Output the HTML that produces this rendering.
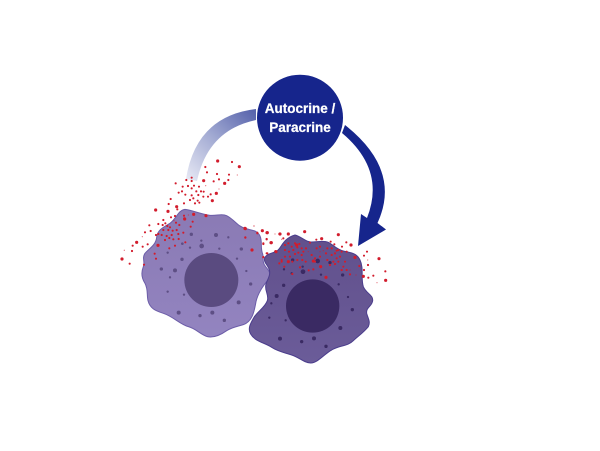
<!DOCTYPE html>
<html><head><meta charset="utf-8"><style>
html,body{margin:0;padding:0;background:#fff;width:600px;height:451px;overflow:hidden}
svg{display:block}
.d{fill:none;stroke:#d21c2c;stroke-linecap:round}
</style></head><body>
<svg width="600" height="451" viewBox="0 0 600 451" xmlns="http://www.w3.org/2000/svg">
<defs>
<linearGradient id="a" gradientUnits="userSpaceOnUse" x1="256" y1="113" x2="190" y2="182"><stop offset="0" stop-color="#5864ac"/><stop offset=".5" stop-color="#a3abd3"/><stop offset="1" stop-color="#e6e8f4"/></linearGradient>
<linearGradient id="l" x1="0" y1="0" x2="0" y2="1"><stop offset="0" stop-color="#8a7ab4"/><stop offset="1" stop-color="#9384c0"/></linearGradient>
<linearGradient id="r" x1="0" y1="0" x2="0" y2="1"><stop offset="0" stop-color="#61508c"/><stop offset="1" stop-color="#6b5c99"/></linearGradient>
</defs>
<path d="M256,109 Q196,116 186,179 L197,181 Q208,130 256,120 Z" fill="url(#a)"/>
<path d="M345,125 Q402,170 377.5,223 L386,229.5 L358,246 L361,214 L367,218 Q386,170 342,133 Z" fill="#16258c"/>
<circle cx="300" cy="117.7" r="43" fill="#16258c"/>
<text x="300" y="113" text-anchor="middle" fill="#fff" stroke="#fff" stroke-width=".25" font-family="'Liberation Sans',sans-serif" font-weight="700" font-size="13.5">Autocrine /</text>
<text x="300" y="132" text-anchor="middle" fill="#fff" stroke="#fff" stroke-width=".25" font-family="'Liberation Sans',sans-serif" font-weight="700" font-size="13.5">Paracrine</text>

<g transform="translate(120 150) scale(.33333)">
<path d="M195,178 C215,180 240,192 270,196 C290,198 305,190 320,197 C345,210 350,228 378,236 C395,241 412,240 420,258 C428,275 420,292 428,312 C432,325 425,335 437,350 C447,362 455,372 445,388 C432,405 415,425 408,455 C402,490 395,515 370,524 C350,530 340,530 320,542 C300,556 280,564 262,560 C240,553 228,536 205,530 C180,523 160,500 130,490 C105,482 90,475 84,452 C80,435 85,420 75,400 C65,385 62,370 70,350 C76,335 65,325 75,310 C88,295 108,285 110,262 C112,240 130,232 150,220 C170,205 175,180 195,178 Z" fill="url(#l)" stroke="#6c5da8" stroke-width="3"/>
<circle cx="274" cy="390" r="81" fill="#5a4b80"/>
<g fill="#5e4f85">
<circle cx="288" cy="255" r="6"/><circle cx="245" cy="288" r="7"/><circle cx="244" cy="272" r="3.5"/><circle cx="325" cy="262" r="3.5"/><circle cx="214" cy="253" r="5"/><circle cx="298" cy="296" r="3.5"/><circle cx="364" cy="297" r="5"/><circle cx="351" cy="326" r="3.5"/><circle cx="186" cy="328" r="5"/><circle cx="210" cy="293" r="3.5"/><circle cx="187" cy="281" r="4"/><circle cx="143" cy="308" r="3.5"/><circle cx="124" cy="357" r="5"/><circle cx="165" cy="361" r="6"/><circle cx="150" cy="382" r="3.5"/><circle cx="143" cy="425" r="3.5"/><circle cx="192" cy="434" r="3.5"/><circle cx="379" cy="363" r="3.5"/><circle cx="392" cy="402" r="5"/><circle cx="356" cy="457" r="6"/><circle cx="277" cy="488" r="6"/><circle cx="240" cy="497" r="5"/><circle cx="176" cy="488" r="6"/><circle cx="313" cy="511" r="5"/>
</g>
<path class="d" stroke-width="9.5" d="M293,33h0M358,50h0M251,92h0M314,100h0M289,130h0M277,152h0M107,180h0M144,184h0M170,170h0M221,193h0M258,197h0M194,207h0M114,286h0M50,277h0M6,327h0M376,236h0M441,248h0M467,305h0M427,242h0M453,278h0"/>
<path class="d" stroke-width="6.5" d="M256,51h0M336,36h0M261,67h0M327,74h0M291,72h0M215,83h0M215,93h0M325,90h0M297,88h0M281,94h0M167,100h0M199,90h0M188,110h0M204,108h0M222,107h0M237,110h0M176,128h0M186,124h0M215,115h0M229,124h0M243,124h0M251,125h0M196,134h0M215,136h0M235,135h0M250,140h0M264,140h0M272,133h0M220,145h0M233,152h0M210,150h0M192,160h0M225,160h0M238,158h0M152,147h0M146,162h0M172,178h0M192,197h0M165,198h0M153,202h0M130,210h0M136,220h0M128,225h0M88,226h0M92,243h0M75,247h0M115,222h0M142,228h0M150,232h0M168,218h0M178,225h0M212,230h0M218,215h0M130,240h0M145,240h0M158,242h0M170,240h0M190,248h0M115,252h0M125,255h0M140,258h0M155,255h0M175,252h0M148,264h0M160,268h0M176,267h0M196,277h0M165,287h0M148,295h0M104,311h0M108,326h0M72,344h0M38,287h0M36,303h0M83,283h0M68,290h0M29,341h0M376,263h0M412,250h0M440,267h0M396,300h0M430,322h0M440,310h0M478,341h0M478,252h0M430,282h0M108,255h0M135,270h0M193,205h0"/>
<path class="d" stroke-width="4" stroke-opacity=".55" d="M352,75h0M297,117h0M257,107h0M67,260h0M13,301h0M402,228h0M162,212h0M205,195h0"/>
</g>

<g transform="translate(240 210) scale(.33333)">
<path d="M165,75 C185,80 195,95 212,96 C230,97 250,90 265,97 C280,105 290,118 310,123 C330,128 350,128 360,150 C372,175 362,205 370,230 C378,250 400,255 398,272 C396,290 378,290 380,310 C384,325 392,335 385,350 C370,368 355,378 340,392 C322,410 300,405 275,420 C255,430 235,458 212,459 C190,458 178,442 155,435 C135,428 115,425 95,412 C75,398 45,395 32,372 C22,355 32,340 42,322 C52,305 75,292 82,272 C88,255 72,240 78,222 C84,205 92,195 88,180 C84,165 68,155 75,142 C82,130 100,130 112,122 C125,112 130,85 165,75 Z" fill="url(#r)" stroke="#4b3d8c" stroke-width="3"/>
<circle cx="218" cy="288" r="80" fill="#3a2a63"/>
<g fill="#3a2a63">
<circle cx="233" cy="153" r="7"/><circle cx="189" cy="185" r="7"/><circle cx="158" cy="150" r="5"/><circle cx="270" cy="158" r="5"/><circle cx="132" cy="178" r="3.5"/><circle cx="188" cy="170" r="3.5"/><circle cx="155" cy="190" r="3.5"/><circle cx="243" cy="194" r="3.5"/><circle cx="308" cy="195" r="5"/><circle cx="296" cy="223" r="3.5"/><circle cx="131" cy="226" r="5"/><circle cx="110" cy="258" r="6"/><circle cx="94" cy="280" r="3.5"/><circle cx="324" cy="261" r="3.5"/><circle cx="337" cy="299" r="5"/><circle cx="88" cy="323" r="3.5"/><circle cx="137" cy="331" r="3.5"/><circle cx="301" cy="354" r="6"/><circle cx="222" cy="385" r="6"/><circle cx="185" cy="395" r="5"/><circle cx="120" cy="386" r="6"/><circle cx="258" cy="409" r="5"/>
</g>
<path class="d" stroke-width="9.5" d="M15,55h0M82,68h0M120,72h0M145,72h0M194,65h0M94,98h0M108,125h0M245,86h0M295,74h0M333,105h0M345,142h0M242,170h0M258,202h0M370,199h0M437,211h0M417,146h0M36,120h0M170,105h0M145,155h0M220,153h0"/>
<path class="d" stroke-width="6.5" d="M68,63h0M52,68h0M16,82h0M80,88h0M70,100h0M130,85h0M229,89h0M272,95h0M283,103h0M306,110h0M319,97h0M381,125h0M372,137h0M384,165h0M372,180h0M385,203h0M400,197h0M436,184h0M70,141h0M82,130h0M118,160h0M125,155h0M133,170h0M157,192h0M180,172h0M206,181h0M220,178h0M135,105h0M145,100h0M155,110h0M165,100h0M178,102h0M185,115h0M135,120h0M147,125h0M160,120h0M172,112h0M175,128h0M190,125h0M135,140h0M150,140h0M165,132h0M185,135h0M125,150h0M157,155h0M172,150h0M187,150h0M197,155h0M210,98h0M230,115h0M240,110h0M198,115h0M215,135h0M225,145h0M240,140h0M258,130h0M262,115h0M275,115h0M290,122h0M262,150h0M275,135h0M285,130h0M295,120h0M305,125h0M320,125h0M300,140h0M290,145h0M280,155h0M270,165h0M285,162h0M295,155h0M315,155h0M310,170h0M305,180h0M320,180h0M330,193h0M358,168h0M225,155h0"/>
<path class="d" stroke-width="4" stroke-opacity=".55" d="M42,48h0M105,72h0M125,88h0M205,125h0M250,122h0M348,195h0M411,218h0M383,150h0M330,180h0M240,125h0"/>
</g>
</svg>
</body></html>
